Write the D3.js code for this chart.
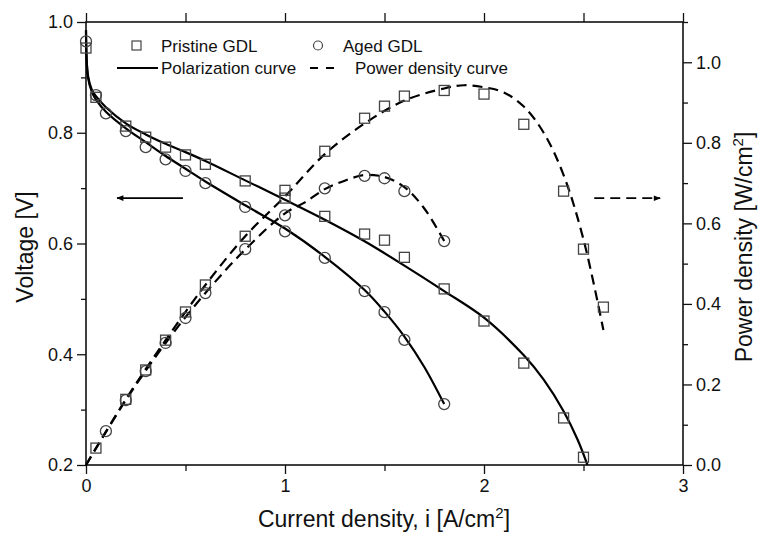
<!DOCTYPE html>
<html>
<head>
<meta charset="utf-8">
<script src="https://cdn.jsdelivr.net/npm/d3@7"></script>
<style>
  body { margin: 0; background: #fff; }
  svg text { font-family: "Liberation Sans", Arial, sans-serif; fill: #111; }
</style>
</head>
<body>
<div id="chart"></div>
<script>
// measured points
var pristineVI = [0,0.05,0.2,0.3,0.4,0.5,0.6,0.8,1.0,1.2,1.4,1.5,1.6,1.8,2.0,2.2,2.4,2.5];
var pristineV  = [0.953,0.864,0.812,0.792,0.774,0.760,0.743,0.713,0.682,0.649,0.617,0.606,0.575,0.518,0.460,0.384,0.285,0.214];
var agedVI = [0,0.05,0.1,0.2,0.3,0.4,0.5,0.6,0.8,1.0,1.2,1.4,1.5,1.6,1.8];
var agedV  = [0.965,0.868,0.835,0.803,0.774,0.752,0.731,0.709,0.666,0.622,0.574,0.514,0.476,0.426,0.310];
var pristinePI = [0.05,0.2,0.3,0.4,0.5,0.6,0.8,1.0,1.2,1.4,1.5,1.6,1.8,2.0,2.2,2.4,2.5,2.6];
var pristineP  = [0.042,0.163,0.236,0.310,0.380,0.447,0.568,0.682,0.779,0.861,0.891,0.916,0.930,0.921,0.846,0.680,0.536,0.392];
var agedPI = [0.1,0.2,0.3,0.4,0.5,0.6,0.8,1.0,1.2,1.4,1.5,1.6,1.8];
var agedP  = [0.084,0.161,0.233,0.303,0.365,0.427,0.536,0.620,0.687,0.718,0.712,0.680,0.556];

// fitted curves
var fitPristineVI = [0,0.01,0.03,0.05,0.1,0.2,0.3,0.4,0.5,0.6,0.8,1.0,1.2,1.4,1.6,1.8,2.0,2.2,2.3,2.4,2.47,2.52];
var fitPristineV  = [0.985,0.903,0.877,0.866,0.846,0.817,0.797,0.780,0.765,0.749,0.714,0.679,0.643,0.604,0.560,0.514,0.466,0.398,0.354,0.297,0.246,0.2];
var fitAgedVI = [0,0.01,0.03,0.05,0.1,0.2,0.3,0.4,0.5,0.6,0.8,1.0,1.2,1.4,1.5,1.6,1.7,1.8];
var fitAgedV  = [0.985,0.900,0.873,0.860,0.838,0.808,0.783,0.758,0.735,0.712,0.669,0.627,0.576,0.516,0.477,0.432,0.377,0.31];
var fitPristinePI = [0,0.2,0.4,0.6,0.8,1.0,1.2,1.4,1.6,1.8,1.9,2.0,2.1,2.2,2.3,2.4,2.5,2.6];
var fitPristineP  = [0,0.163,0.310,0.447,0.568,0.667,0.772,0.848,0.905,0.935,0.943,0.938,0.925,0.890,0.825,0.720,0.560,0.335];
var fitAgedPI = [0,0.2,0.4,0.6,0.8,1.0,1.1,1.2,1.3,1.4,1.5,1.6,1.7,1.8];
var fitAgedP  = [0,0.161,0.303,0.427,0.535,0.625,0.652,0.685,0.706,0.720,0.715,0.690,0.637,0.556];

var xTicks = [0,1,2,3];
var vTicks = [0.2,0.4,0.6,0.8,1.0];
var pTicks = [0.0,0.2,0.4,0.6,0.8,1.0];

var W = 758, H = 539;
var margin = {top: 22, right: 75, bottom: 74, left: 86};
var width = W - margin.left - margin.right,
    height = H - margin.top - margin.bottom;

var svg = d3.select("#chart").append("svg")
    .attr("width", W).attr("height", H);
var g = svg.append("g")
    .attr("transform", "translate(" + margin.left + "," + margin.top + ")");

var x = d3.scaleLinear().domain([0,3]).range([0,width]);
var yV = d3.scaleLinear().domain([0.2,1.0]).range([height,0]);
var yP = d3.scaleLinear().domain([0,1.1]).range([height,0]);

function zip(a,b){ return a.map(function(d,i){ return [d,b[i]]; }); }

// axes
var tickFont = 18;
function styleAxis(sel){
  sel.selectAll("path").remove();
  sel.selectAll("line").attr("stroke","#111").attr("stroke-width",1.3);
  sel.selectAll("text").style("font-size",tickFont+"px");
}
// minor ticks
g.append("g").attr("transform","translate(0,"+height+")")
  .call(d3.axisBottom(x).tickValues([0.5,1.5,2.5]).tickSize(6).tickFormat(""))
  .call(styleAxis);
g.append("g").attr("transform","translate(0,"+height+")")
  .call(d3.axisBottom(x).tickValues(xTicks).tickSize(9).tickPadding(5).tickFormat(d3.format("d")))
  .call(styleAxis);
g.append("g")
  .call(d3.axisTop(x).tickValues([0,0.5,1,1.5,2,2.5,3]).tickSize(9).tickFormat(""))
  .call(styleAxis);
g.append("g")
  .call(d3.axisLeft(yV).tickValues([0.3,0.5,0.7,0.9]).tickSize(5).tickFormat(""))
  .call(styleAxis);
g.append("g")
  .call(d3.axisLeft(yV).tickValues(vTicks).tickSize(9).tickPadding(4).tickFormat(d3.format(".1f")))
  .call(styleAxis);
g.append("g").attr("transform","translate("+width+",0)")
  .call(d3.axisRight(yP).tickValues([0.1,0.3,0.5,0.7,0.9,1.1]).tickSize(5).tickFormat(""))
  .call(styleAxis);
g.append("g").attr("transform","translate("+width+",0)")
  .call(d3.axisRight(yP).tickValues(pTicks).tickSize(9).tickPadding(4).tickFormat(d3.format(".1f")))
  .call(styleAxis);

// frame
g.append("rect").attr("width",width).attr("height",height)
  .attr("fill","none").attr("stroke","#111").attr("stroke-width",1.6);

// curves
var lineV = d3.line().x(function(d){return x(d[0]);}).y(function(d){return yV(d[1]);}).curve(d3.curveCatmullRom.alpha(0.5));
var lineP = d3.line().x(function(d){return x(d[0]);}).y(function(d){return yP(d[1]);}).curve(d3.curveCatmullRom.alpha(0.5));

[zip(fitPristineVI,fitPristineV), zip(fitAgedVI,fitAgedV)].forEach(function(c){
  g.append("path").datum(c).attr("d",lineV)
    .attr("fill","none").attr("stroke","#000").attr("stroke-width",2.2);
});
[zip(fitPristinePI,fitPristineP), zip(fitAgedPI,fitAgedP)].forEach(function(c){
  g.append("path").datum(c).attr("d",lineP)
    .attr("fill","none").attr("stroke","#000").attr("stroke-width",2.2)
    .attr("stroke-dasharray","10,6");
});

// markers
var sq = 10, rr = 5.5, mk = "#444";
function squares(data, y){
  g.append("g").selectAll("rect").data(data).enter().append("rect")
    .attr("x",function(d){return x(d[0])-sq/2;})
    .attr("y",function(d){return y(d[1])-sq/2;})
    .attr("width",sq).attr("height",sq)
    .attr("fill","none").attr("stroke",mk).attr("stroke-width",1.3);
}
function circles(data, y){
  g.append("g").selectAll("circle").data(data).enter().append("circle")
    .attr("cx",function(d){return x(d[0]);})
    .attr("cy",function(d){return y(d[1]);})
    .attr("r",rr)
    .attr("fill","none").attr("stroke",mk).attr("stroke-width",1.3);
}
squares(zip(pristineVI,pristineV), yV);
squares(zip(pristinePI,pristineP), yP);
circles(zip(agedVI,agedV), yV);
circles(zip(agedPI,agedP), yP);

// arrows
var defs = svg.append("defs");
defs.append("marker").attr("id","ah").attr("viewBox","0 0 10 10")
  .attr("refX",9).attr("refY",5).attr("markerWidth",9).attr("markerHeight",7)
  .attr("markerUnits","userSpaceOnUse").attr("orient","auto")
  .append("path").attr("d","M0,1 L10,5 L0,9 Z").attr("fill","#000");
var aV = 0.682, aP = 0.6625;
g.append("line").attr("x1",x(0.487)).attr("x2",x(0.156))
  .attr("y1",yV(aV)).attr("y2",yV(aV))
  .attr("stroke","#000").attr("stroke-width",1.8).attr("marker-end","url(#ah)");
g.append("line").attr("x1",x(2.554)).attr("x2",x(2.885))
  .attr("y1",yP(aP)).attr("y2",yP(aP))
  .attr("stroke","#000").attr("stroke-width",1.8).attr("stroke-dasharray","10,6")
  .attr("marker-end","url(#ah)");

// legend
var leg = svg.append("g").style("font-size","17px");
leg.append("rect").attr("x",132).attr("y",41).attr("width",9).attr("height",9)
  .attr("fill","none").attr("stroke",mk).attr("stroke-width",1.2);
leg.append("text").attr("x",161).attr("y",51.5).text("Pristine GDL");
leg.append("circle").attr("cx",318).attr("cy",45.5).attr("r",4.5)
  .attr("fill","none").attr("stroke",mk).attr("stroke-width",1.2);
leg.append("text").attr("x",343).attr("y",51.5).text("Aged GDL");
leg.append("line").attr("x1",117).attr("x2",158).attr("y1",68).attr("y2",68)
  .attr("stroke","#000").attr("stroke-width",2.2);
leg.append("text").attr("x",161).attr("y",74).text("Polarization curve");
leg.append("line").attr("x1",310).attr("x2",334).attr("y1",68).attr("y2",68)
  .attr("stroke","#000").attr("stroke-width",2.2).attr("stroke-dasharray","8,8");
leg.append("text").attr("x",355).attr("y",74).text("Power density curve");

// axis titles
var tt = svg.append("g").style("font-size","23px");
tt.append("text").attr("text-anchor","middle")
  .attr("transform","translate(33,247) rotate(-90)").text("Voltage [V]");
var pt = tt.append("text").attr("text-anchor","middle")
  .attr("transform","translate(752,247) rotate(-90)");
pt.append("tspan").text("Power density [W/cm");
pt.append("tspan").attr("dy",-9).style("font-size","15px").text("2");
pt.append("tspan").attr("dy",9).text("]");
var xt = tt.append("text").attr("text-anchor","middle").attr("x",384).attr("y",527);
xt.append("tspan").text("Current density, i [A/cm");
xt.append("tspan").attr("dy",-9).style("font-size","15px").text("2");
xt.append("tspan").attr("dy",9).text("]");
</script>
</body>
</html>
